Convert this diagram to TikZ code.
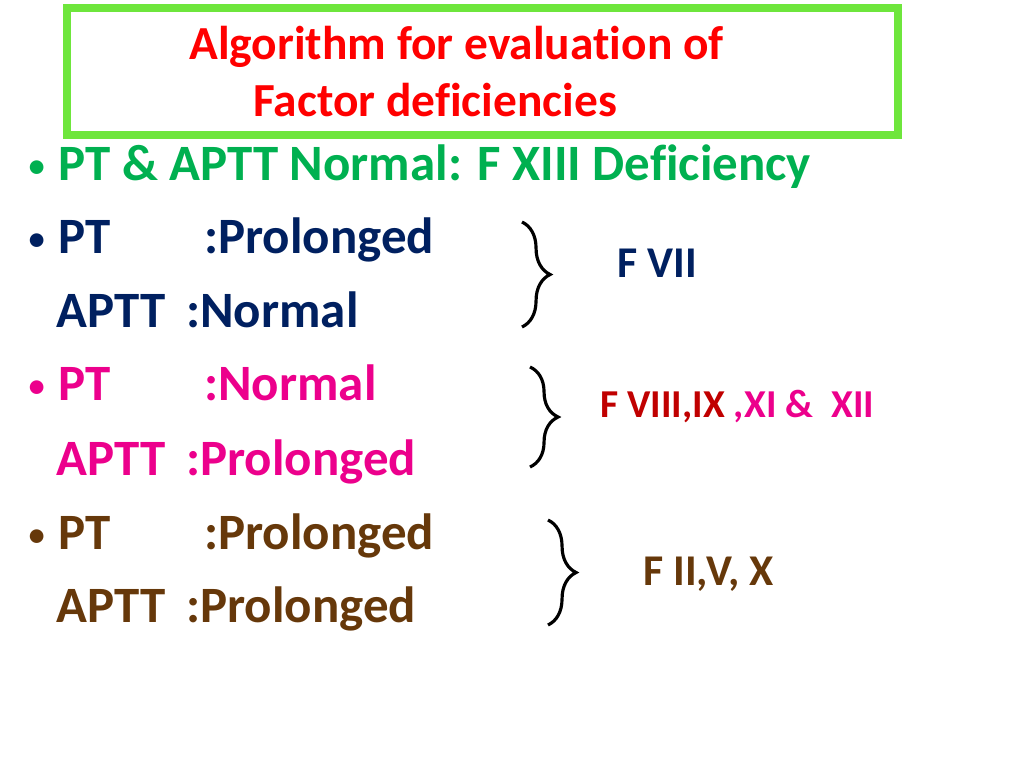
\documentclass[tikz,border=0pt]{standalone}
\usepackage{fontspec}
\setmainfont{Carlito}[Ligatures=NoCommon]
\usetikzlibrary{decorations.pathreplacing}
\definecolor{ttlgreen}{RGB}{0,176,80}
\definecolor{navy}{RGB}{0,32,96}
\definecolor{brownish}{RGB}{102,56,10}
\definecolor{darkred}{RGB}{192,0,0}
\definecolor{boxgreen}{RGB}{110,230,60}
\tikzset{
  item/.style={anchor=base west, inner sep=0pt, font=\bfseries\fontsize{29}{34}\selectfont},
  bul/.style={anchor=base, inner sep=0pt, font=\fontsize{22}{26}\selectfont},
  fact/.style={anchor=base west, inner sep=0pt, font=\bfseries\fontsize{25}{30}\selectfont},
  curly/.style={decorate, decoration={brace, amplitude=16pt}, line width=1.8pt}
}
\begin{document}
\begin{tikzpicture}[x=0.02cm, y=-0.02cm]
\useasboundingbox (0,0) rectangle (1024,768);
% title box
\draw[boxgreen, line width=4pt] (67,8) rectangle (898,135);
\node (t1)[anchor=base west, inner sep=0pt, red, font=\bfseries\fontsize{27}{32}\selectfont] at (189,59) {Algorithm for evaluation of};
\node (t2)[anchor=base west, inner sep=0pt, red, font=\bfseries\fontsize{27}{32}\selectfont] at (253,116) {Factor deficiencies};
% bullet lines
\node (b0)[bul, ttlgreen] at (37,178) {\textbullet};
\node (l0)[item, ttlgreen] at (58,180) {PT \& APTT Normal: F XIII Deficiency};
\node (b1)[bul, navy] at (37,251) {\textbullet};
\node (l1)[item, navy] at (58,253) {PT};
\node (v1)[item, navy] at (204,253) {:Prolonged};
\node (l2)[item, navy] at (56,327) {APTT};
\node (v2)[item, navy] at (186,327) {:Normal};
\node (b3)[bul, magenta] at (37,398) {\textbullet};
\node (l3)[item, magenta] at (58,400) {PT};
\node (v3)[item, magenta] at (204,400) {:Normal};
\node (l4)[item, magenta] at (56,475) {APTT};
\node (v4)[item, magenta] at (186,475) {:Prolonged};
\node (b5)[bul, brownish] at (37,547) {\textbullet};
\node (l5)[item, brownish] at (58,549) {PT};
\node (v5)[item, brownish] at (204,549) {:Prolonged};
\node (l6)[item, brownish] at (56,622) {APTT};
\node (v6)[item, brownish] at (186,622) {:Prolonged};
% braces
\coordinate (a1) at (522,222); \coordinate (a2) at (522,327);
\coordinate (c1) at (530,367); \coordinate (c2) at (530,467);
\coordinate (d1) at (548,520); \coordinate (d2) at (548,625);
\draw[curly] (a1) -- (a2);
\draw[curly] (c1) -- (c2);
\draw[curly] (d1) -- (d2);
% factors
\node (f1)[fact, navy] at (617,277) {F VII};
\node (f2)[fact, font=\bfseries\fontsize{22.5}{27}\selectfont] at (600,417) {\textcolor{darkred}{F VIII,IX} \textcolor{magenta}{,XI \&\ \ XII}};
\node (f3)[fact, brownish] at (643,585) {F II,V, X};
\end{tikzpicture}
\end{document}
